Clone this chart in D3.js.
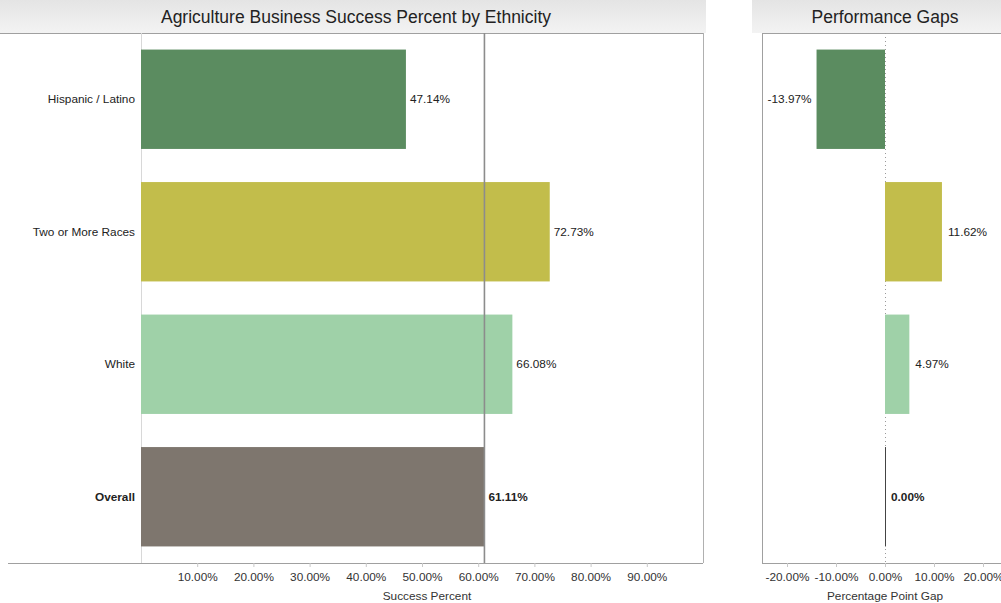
<!DOCTYPE html>
<html>
<head>
<meta charset="utf-8">
<script src="https://cdn.jsdelivr.net/npm/d3@7"></script>
<style>
  html, body { margin: 0; padding: 0; background: #fff; }
  svg { display: block; font-family: Arial, "Liberation Sans", sans-serif; }
</style>
</head>
<body>
<svg id="chart" width="1001" height="603"></svg>
<script>
// Categories and values
const categories = ["Hispanic / Latino", "Two or More Races", "White", "Overall"];
const successPct = [47.14, 72.73, 66.08, 61.11];
const gapPct = [-13.97, 11.62, 4.97, 0.00];
const barColors = ["#5b8c60", "#c2bd4b", "#9fd1a8", "#7e766e"];
const successTicks = [10, 20, 30, 40, 50, 60, 70, 80, 90];
const gapTicks = [-20, -10, 0, 10, 20];
const overallValue = 61.11;

const svg = d3.select("#chart");
const fmt = v => v.toFixed(2) + "%";
const labelSize = 11.8;

// Title band gradient
const defs = svg.append("defs");
const grad = defs.append("linearGradient").attr("id", "band").attr("x1", 0).attr("y1", 0).attr("x2", 0).attr("y2", 1);
grad.append("stop").attr("offset", "0%").attr("stop-color", "#e4e4e4");
grad.append("stop").attr("offset", "100%").attr("stop-color", "#f3f3f3");

const plotTop = 33, plotBottom = 563;

// Shared band scale
const y = d3.scaleBand().domain(categories).range([plotTop, plotBottom]).paddingInner(0.25).paddingOuter(0.125);

// ---------- Left panel: success percent ----------
const xL = d3.scaleLinear().domain([0, 100]).range([141, 703]);

svg.append("rect").attr("x", 0).attr("y", 0).attr("width", 706).attr("height", plotTop).attr("fill", "url(#band)");
svg.append("text").attr("x", 356).attr("y", 23).attr("text-anchor", "middle")
  .attr("font-size", 17.5).attr("fill", "#222").text("Agriculture Business Success Percent by Ethnicity");

const left = svg.append("g");
left.append("line").attr("x1", 0).attr("x2", 703).attr("y1", plotTop + 0.5).attr("y2", plotTop + 0.5).attr("stroke", "#a0a0a0");
left.append("line").attr("x1", 8).attr("x2", 703).attr("y1", plotBottom + 0.5).attr("y2", plotBottom + 0.5).attr("stroke", "#a0a0a0");
left.append("line").attr("x1", 703.5).attr("x2", 703.5).attr("y1", plotTop).attr("y2", plotBottom).attr("stroke", "#b0b0b0");
left.append("line").attr("x1", xL(0) + 0.5).attr("x2", xL(0) + 0.5).attr("y1", plotTop).attr("y2", plotBottom).attr("stroke", "#d8d8d8");

left.selectAll("rect.bar").data(categories).join("rect")
  .attr("class", "bar")
  .attr("x", xL(0))
  .attr("y", d => y(d))
  .attr("width", (d, i) => xL(successPct[i]) - xL(0))
  .attr("height", y.bandwidth())
  .attr("fill", (d, i) => barColors[i]);

// Reference line at the overall value
left.append("line").attr("x1", xL(overallValue)).attr("x2", xL(overallValue))
  .attr("y1", plotTop).attr("y2", plotBottom).attr("stroke", "#8c8c8c").attr("stroke-width", 1.6);

left.selectAll("text.cat").data(categories).join("text")
  .attr("class", "cat")
  .attr("x", 135).attr("y", d => y(d) + y.bandwidth() / 2 + 4)
  .attr("text-anchor", "end").attr("font-size", labelSize).attr("fill", "#222")
  .attr("font-weight", d => d === "Overall" ? "bold" : "normal")
  .text(d => d);

left.selectAll("text.val").data(categories).join("text")
  .attr("class", "val")
  .attr("x", (d, i) => xL(successPct[i]) + 4).attr("y", d => y(d) + y.bandwidth() / 2 + 4)
  .attr("font-size", labelSize).attr("fill", "#222")
  .attr("font-weight", d => d === "Overall" ? "bold" : "normal")
  .text((d, i) => fmt(successPct[i]));

const axL = d3.axisBottom(xL).tickValues(successTicks).tickFormat(d => d.toFixed(2) + "%").tickSize(4).tickPadding(6);
const gAxL = left.append("g").attr("transform", `translate(0,${plotBottom})`).call(axL);
gAxL.select(".domain").remove();
gAxL.selectAll(".tick line").attr("stroke", "#c8c8c8");
gAxL.selectAll(".tick text").attr("font-size", labelSize).attr("fill", "#333").attr("font-family", "Arial, 'Liberation Sans', sans-serif");
left.append("text").attr("x", xL(50) + 5).attr("y", 600).attr("text-anchor", "middle")
  .attr("font-size", labelSize).attr("fill", "#333").text("Success Percent");

// ---------- Right panel: performance gaps ----------
const xR = d3.scaleLinear().domain([-25.1, 25.1]).range([762, 1008]);

svg.append("rect").attr("x", 752).attr("y", 0).attr("width", 249).attr("height", plotTop).attr("fill", "url(#band)");
svg.append("text").attr("x", 885).attr("y", 23).attr("text-anchor", "middle")
  .attr("font-size", 17.5).attr("fill", "#222").text("Performance Gaps");

const right = svg.append("g");
right.append("line").attr("x1", 762).attr("x2", 1001).attr("y1", plotTop + 0.5).attr("y2", plotTop + 0.5).attr("stroke", "#a0a0a0");
right.append("line").attr("x1", 762).attr("x2", 1001).attr("y1", plotBottom + 0.5).attr("y2", plotBottom + 0.5).attr("stroke", "#a0a0a0");
right.append("line").attr("x1", 762.5).attr("x2", 762.5).attr("y1", plotTop).attr("y2", plotBottom).attr("stroke", "#a0a0a0");
right.append("line").attr("x1", xR(0) + 0.5).attr("x2", xR(0) + 0.5).attr("y1", plotTop).attr("y2", plotBottom)
  .attr("stroke", "#9a9a9a").attr("stroke-dasharray", "1,3");

right.selectAll("rect.gap").data(categories).join("rect")
  .attr("class", "gap")
  .attr("x", (d, i) => xR(Math.min(0, gapPct[i])))
  .attr("y", d => y(d))
  .attr("width", (d, i) => Math.abs(xR(gapPct[i]) - xR(0)))
  .attr("height", y.bandwidth())
  .attr("fill", (d, i) => barColors[i]);

// Zero-width gap bars show as a thin rule
right.selectAll("line.zero").data(categories.filter((d, i) => gapPct[i] === 0)).join("line")
  .attr("class", "zero")
  .attr("x1", xR(0) + 0.5).attr("x2", xR(0) + 0.5)
  .attr("y1", d => y(d)).attr("y2", d => y(d) + y.bandwidth())
  .attr("stroke", "#444").attr("stroke-width", 1);

right.selectAll("text.gval").data(categories).join("text")
  .attr("class", "gval")
  .attr("x", (d, i) => gapPct[i] < 0 ? xR(gapPct[i]) - 5 : xR(gapPct[i]) + 6)
  .attr("y", d => y(d) + y.bandwidth() / 2 + 4)
  .attr("text-anchor", (d, i) => gapPct[i] < 0 ? "end" : "start")
  .attr("font-size", labelSize).attr("fill", "#222")
  .attr("font-weight", d => d === "Overall" ? "bold" : "normal")
  .text((d, i) => fmt(gapPct[i]));

const axR = d3.axisBottom(xR).tickValues(gapTicks).tickFormat(d => d.toFixed(2) + "%").tickSize(4).tickPadding(6);
const gAxR = right.append("g").attr("transform", `translate(0,${plotBottom})`).call(axR);
gAxR.select(".domain").remove();
gAxR.selectAll(".tick line").attr("stroke", "#c8c8c8");
gAxR.selectAll(".tick text").attr("font-size", labelSize).attr("fill", "#333").attr("font-family", "Arial, 'Liberation Sans', sans-serif");
right.append("text").attr("x", xR(0)).attr("y", 600).attr("text-anchor", "middle")
  .attr("font-size", labelSize).attr("fill", "#333").text("Percentage Point Gap");
</script>
</body>
</html>
